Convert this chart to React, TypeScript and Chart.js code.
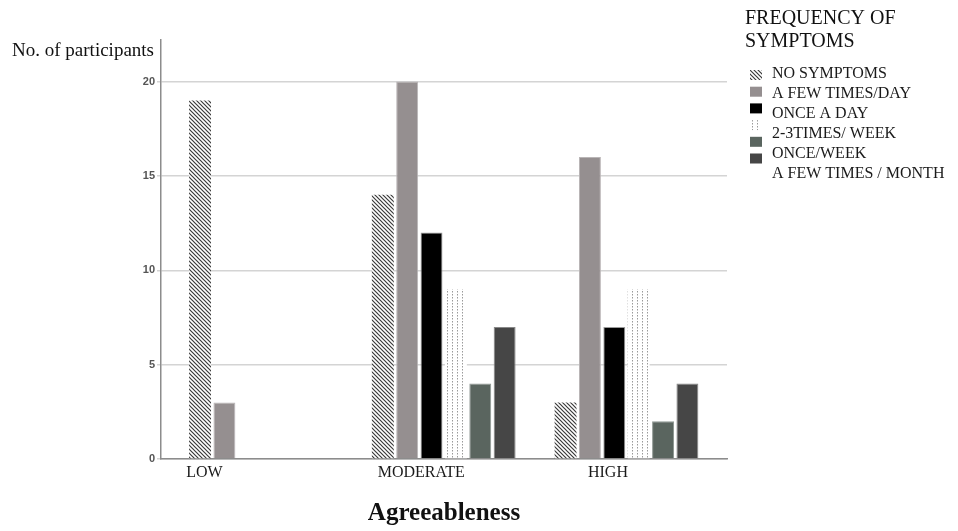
import { useEffect, useRef } from 'react';
import { Chart, registerables } from 'chart.js';

Chart.register(...registerables);

// ---- data ----
const categories = ['LOW', 'MODERATE', 'HIGH'];
const seriesLabels = [
  'NO SYMPTOMS',
  'A FEW TIMES/DAY',
  'ONCE A DAY',
  '2-3TIMES/ WEEK',
  'ONCE/WEEK',
  'A FEW TIMES / MONTH',
];
const noSymptoms = [19, 14, 3];
const fewTimesPerDay = [3, 20, 16];
const onceADay = [0, 12, 7];
const twoThreeTimesWeek = [0, 9, 9];
const oncePerWeek = [0, 4, 2];
const fewTimesPerMonth = [0, 7, 4];
const yTicks = [0, 5, 10, 15, 20];
const yMax = 22.2;
const legendTitle = ['FREQUENCY OF', 'SYMPTOMS'];
const yTitle = 'No. of participants';
const xTitle = 'Agreeableness';

const seriesValues = [noSymptoms, fewTimesPerDay, onceADay, twoThreeTimesWeek, oncePerWeek, fewTimesPerMonth];

const serif = "'Liberation Serif', 'Times New Roman', serif";
const sans = "'Liberation Sans', Arial, sans-serif";

function makeHatch(): CanvasPattern | string {
  const c = document.createElement('canvas');
  c.width = 4;
  c.height = 4;
  const g = c.getContext('2d');
  if (!g) return '#777';
  g.fillStyle = '#ffffff';
  g.fillRect(0, 0, 4, 4);
  g.strokeStyle = '#3a3a3a';
  g.lineWidth = 1.2;
  g.beginPath();
  g.moveTo(-1, -1); g.lineTo(5, 5);
  g.moveTo(-1, 3); g.lineTo(1, 5);
  g.moveTo(3, -1); g.lineTo(5, 1);
  g.stroke();
  return g.createPattern(c, 'repeat') || '#777';
}

function makeDots(): CanvasPattern | string {
  const c = document.createElement('canvas');
  c.width = 5;
  c.height = 3;
  const g = c.getContext('2d');
  if (!g) return '#eee';
  g.fillStyle = '#ffffff';
  g.fillRect(0, 0, 5, 3);
  g.fillStyle = '#9a9a9a';
  g.fillRect(2, 0, 1, 1.5);
  return g.createPattern(c, 'repeat') || '#eee';
}

const labelShift = [-56.5, -22.5, -18.5];

const overlayPlugin = {
  id: 'overlay',
  afterDraw(chart: any) {
    const { ctx, chartArea, scales } = chart;
    ctx.save();
    // y-axis title (horizontal, top-left)
    ctx.font = `19px ${serif}`;
    ctx.fillStyle = '#111';
    ctx.textAlign = 'right';
    ctx.textBaseline = 'alphabetic';
    ctx.fillText(yTitle, chartArea.left - 7, chartArea.top + 16);

    // category labels
    ctx.font = `16px ${serif}`;
    ctx.textAlign = 'center';
    ctx.fillStyle = '#1a1a1a';
    categories.forEach((c, i) => {
      ctx.fillText(c, scales.x.getPixelForValue(i) + labelShift[i], chartArea.bottom + 18);
    });

    // legend
    const lx = chartArea.right + 18;
    ctx.textAlign = 'left';
    ctx.font = `20px ${serif}`;
    ctx.fillStyle = '#111';
    legendTitle.forEach((t, i) => ctx.fillText(t, lx, 24 + i * 23));
    ctx.font = `16px ${serif}`;
    chart.data.datasets.forEach((ds: any, i: number) => {
      ctx.fillStyle = ds.backgroundColor;
      ctx.fillRect(lx + 5, 70 + i * 16.7, 12, 10);
      ctx.fillStyle = '#1a1a1a';
      ctx.fillText(ds.label, lx + 27, 78 + i * 20);
    });
    ctx.restore();
  },
};

export default function App() {
  const ref = useRef<HTMLCanvasElement | null>(null);

  useEffect(() => {
    if (!ref.current) return;
    const fills = [makeHatch(), '#958f90', '#000000', makeDots(), '#5a655f', '#464646'];
    const borders = ['rgba(0,0,0,0)', '#b9b5b6', '#9a9a9a', 'rgba(0,0,0,0)', '#8f9893', '#888888'];
    const borderWidths = [0, 1, 1, 0, 1, 1];

    const chart = new Chart(ref.current, {
      type: 'bar',
      data: {
        datasets: seriesValues.map((vals, k) => ({
          label: seriesLabels[k],
          data: vals.map((v, i) => ({ x: i, y: v })),
          backgroundColor: fills[k] as any,
          borderColor: borders[k],
          borderWidth: borderWidths[k],
          borderSkipped: 'start',
          categoryPercentage: 0.8,
          barPercentage: 0.9,
        })),
      },
      options: {
        animation: false,
        responsive: true,
        maintainAspectRatio: false,
        events: [],
        layout: { padding: { left: 143, top: 40, right: 231, bottom: 0 } },
        plugins: {
          legend: { display: false },
          tooltip: { enabled: false },
        },
        scales: {
          x: {
            type: 'linear',
            min: -0.547,
            max: 2.55,
            offset: false,
            afterBuildTicks: (s: any) => {
              s.ticks = categories.map((_, i) => ({ value: i }));
            },
            afterFit: (s: any) => {
              s.height = 72;
            },
            grid: { display: false, drawTicks: false },
            border: { display: true, color: '#8c8c8c', width: 1.5 },
            ticks: { display: false },
            title: {
              display: true,
              text: xTitle,
              font: { family: serif, size: 25, weight: 'bold' },
              color: '#111',
              padding: { top: 0, bottom: 2 },
            },
          },
          y: {
            type: 'linear',
            min: 0,
            max: yMax,
            afterBuildTicks: (s: any) => {
              s.ticks = yTicks.map((v) => ({ value: v }));
            },
            afterFit: (s: any) => {
              s.width = 18;
            },
            grid: { color: '#d4d4d4', lineWidth: 1.5, tickLength: 4, drawTicks: true },
            border: { display: true, color: '#8c8c8c', width: 1.5 },
            ticks: {
              padding: 2,
              font: { family: sans, size: 11, weight: 'bold' },
              color: '#555',
            },
          },
        },
      } as any,
      plugins: [overlayPlugin],
    });
    return () => chart.destroy();
  }, []);

  return (
    <div style={{ position: 'absolute', left: 0, top: 0, width: 958, height: 531, background: '#fff' }}>
      <canvas ref={ref} />
    </div>
  );
}
